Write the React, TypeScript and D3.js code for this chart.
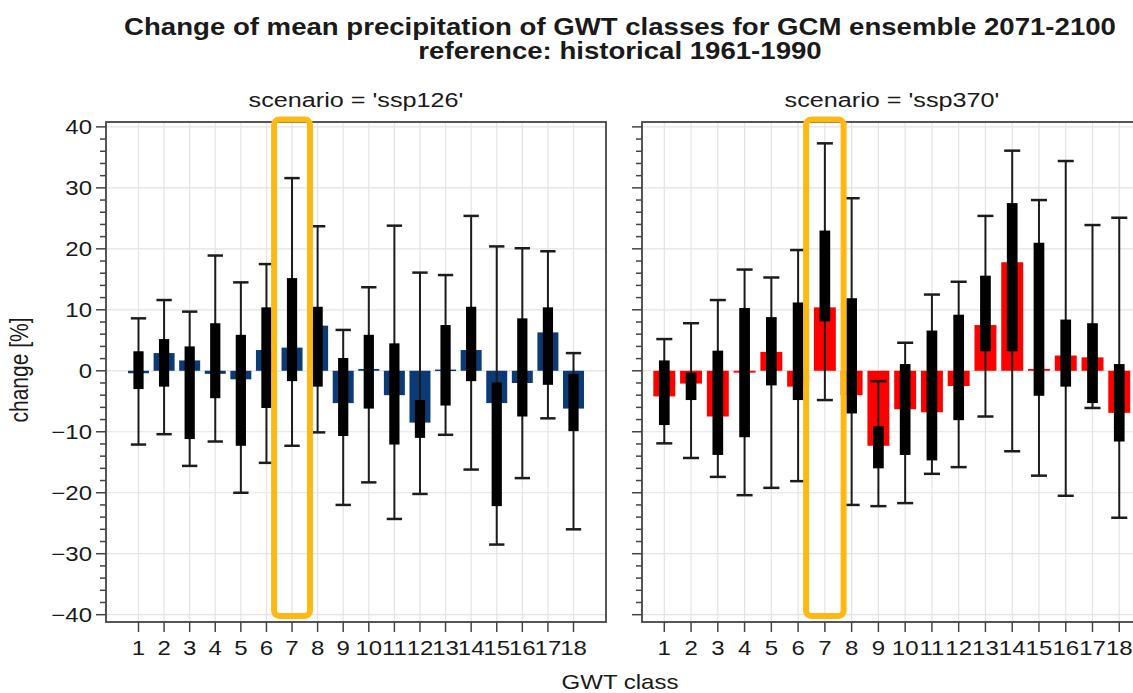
import React from "react";
import * as d3 from "d3";

// ---------- data ----------
const classes = [1, 2, 3, 4, 5, 6, 7, 8, 9, 10, 11, 12, 13, 14, 15, 16, 17, 18];

const ssp126Mean = [-0.4, 2.9, 1.7, -0.5, -1.4, 3.4, 3.8, 7.4, -5.3, 0.3, -4.0, -8.5, 0.2, 3.4, -5.3, -2.0, 6.3, -6.2];
const ssp126Q75 = [3.2, 5.2, 4.0, 7.8, 5.9, 10.4, 15.2, 10.5, 2.1, 5.9, 4.5, -4.8, 7.5, 10.5, -1.9, 8.6, 10.4, -0.5];
const ssp126Q25 = [-3.0, -2.6, -11.2, -4.5, -12.3, -6.1, -1.7, -2.6, -10.7, -6.2, -12.1, -11.0, -5.7, -1.7, -22.2, -7.5, -2.3, -9.9];
const ssp126Max = [8.6, 11.6, 9.7, 18.9, 14.5, 17.5, 31.6, 23.7, 6.7, 13.7, 23.8, 16.1, 15.7, 25.4, 20.4, 20.1, 19.6, 2.9];
const ssp126Min = [-12.1, -10.4, -15.6, -11.6, -20.0, -15.1, -12.3, -10.1, -22.0, -18.3, -24.3, -20.2, -10.5, -16.2, -28.5, -17.6, -7.8, -26.0];

const ssp370Mean = [-4.2, -2.1, -7.5, -0.3, 3.1, -2.6, 10.4, -4.0, -12.3, -6.3, -6.8, -2.5, 7.5, 17.8, 0.3, 2.5, 2.2, -6.9];
const ssp370Q75 = [1.7, -0.3, 3.3, 10.3, 8.8, 11.2, 23.0, 11.9, -9.1, 1.1, 6.6, 9.2, 15.6, 27.5, 21.0, 8.4, 7.8, 1.1];
const ssp370Q25 = [-8.9, -4.8, -13.8, -10.9, -2.4, -4.8, 8.1, -7.0, -16.0, -13.8, -14.7, -8.1, 3.2, 3.2, -4.1, -2.6, -5.3, -11.6];
const ssp370Max = [5.2, 7.8, 11.6, 16.6, 15.3, 19.8, 37.3, 28.3, -1.7, 4.6, 12.5, 14.6, 25.4, 36.1, 28.0, 34.4, 23.9, 25.1];
const ssp370Min = [-11.9, -14.3, -17.4, -20.4, -19.2, -18.1, -4.8, -22.0, -22.2, -21.7, -16.9, -15.8, -7.5, -13.2, -17.2, -20.5, -6.1, -24.1];

const yMajorTicks = [-40, -30, -20, -10, 0, 10, 20, 30, 40];
const highlightClass = 7;

const titleLine1 = "Change of mean precipitation of GWT classes for GCM ensemble 2071-2100";
const titleLine2 = "reference: historical 1961-1990";
const yLabel = "change [%]";
const xLabel = "GWT class";

// ---------- layout ----------
const W = 1133;
const H = 693;
const SX = 1.2; // horizontal stretch of text
const FONT = "'Liberation Sans', Arial, Helvetica, sans-serif";

const yScale = d3.scaleLinear().domain([-41.2, 40.8]).range([622, 122]);

const panels = [
  {
    label: "scenario = 'ssp126'",
    color: "#0c3a74",
    mean: ssp126Mean, q25: ssp126Q25, q75: ssp126Q75, min: ssp126Min, max: ssp126Max,
    x0: 106, x1: 606, domain: [-0.27, 19.27], showYLabels: true,
  },
  {
    label: "scenario = 'ssp370'",
    color: "#ff0000",
    mean: ssp370Mean, q25: ssp370Q25, q75: ssp370Q75, min: ssp370Min, max: ssp370Max,
    x0: 642, x1: 1142, domain: [0.167, 18.85], showYLabels: false,
  },
];

function T({ x, y, children, anchor = "middle", size = 20, weight = "normal", rotate = false }: any) {
  const tr = rotate
    ? `translate(${x},${y}) rotate(-90) scale(1,${SX})`
    : `translate(${x},${y}) scale(${SX},1)`;
  return (
    <text transform={tr} textAnchor={anchor} fontSize={size} fontWeight={weight} fontFamily={FONT} fill="#1a1a1a">
      {children}
    </text>
  );
}

function Panel({ p }: any) {
  const x = d3.scaleLinear().domain(p.domain).range([p.x0, p.x1]);
  const unit = x(1) - x(0);
  const barW = 0.82 * unit;
  const boxW = 0.4 * unit;
  const capW = 0.6 * unit;
  const y0 = yScale(0);
  const [yTop, yBot] = [yScale.range()[1], yScale.range()[0]];
  const minorTicks = d3.range(-40, 41, 2);
  return (
    <g>
      <rect x={p.x0} y={yTop} width={p.x1 - p.x0} height={yBot - yTop} fill="#fff" />
      {yMajorTicks.map((t) => (
        <line key={"gy" + t} x1={p.x0} x2={p.x1} y1={yScale(t)} y2={yScale(t)} stroke="#e3e3e3" strokeWidth={1.2} />
      ))}
      {classes.map((c) => (
        <line key={"gx" + c} x1={x(c)} x2={x(c)} y1={yTop} y2={yBot} stroke="#e3e3e3" strokeWidth={1.2} />
      ))}
      {classes.map((c, i) => {
        const ym = yScale(p.mean[i]);
        return (
          <rect key={"m" + c} x={x(c) - barW / 2} y={Math.min(ym, y0)} width={barW}
            height={Math.max(Math.abs(ym - y0), 1.5)} fill={p.color} />
        );
      })}
      {classes.map((c, i) => (
        <g key={"w" + c} stroke="#1c1c1c">
          <line x1={x(c)} x2={x(c)} y1={yScale(p.min[i])} y2={yScale(p.max[i])} strokeWidth={2} />
          <line x1={x(c) - capW / 2} x2={x(c) + capW / 2} y1={yScale(p.min[i])} y2={yScale(p.min[i])} strokeWidth={2.5} />
          <line x1={x(c) - capW / 2} x2={x(c) + capW / 2} y1={yScale(p.max[i])} y2={yScale(p.max[i])} strokeWidth={2.5} />
        </g>
      ))}
      {classes.map((c, i) => (
        <rect key={"b" + c} x={x(c) - boxW / 2} y={yScale(p.q75[i])} width={boxW}
          height={yScale(p.q25[i]) - yScale(p.q75[i])} fill="#000" />
      ))}
      <rect x={p.x0} y={yTop} width={p.x1 - p.x0} height={yBot - yTop} fill="none" stroke="#444" strokeWidth={1.8} />
      {/* y ticks */}
      {minorTicks.map((t) => {
        const major = t % 10 === 0;
        return (
          <line key={"yt" + t} x1={p.x0 - (major ? 10 : 6)} x2={p.x0} y1={yScale(t)} y2={yScale(t)} stroke="#444" strokeWidth={1.5} />
        );
      })}
      {p.showYLabels &&
        yMajorTicks.map((t) => (
          <T key={"yl" + t} x={p.x0 - 14} y={yScale(t) + 7} anchor="end">
            {t < 0 ? "\u2212" + Math.abs(t) : String(t)}
          </T>
        ))}
      {/* x ticks */}
      {classes.map((c) => (
        <g key={"xt" + c}>
          <line x1={x(c)} x2={x(c)} y1={yBot} y2={yBot + 10} stroke="#444" strokeWidth={1.5} />
          <T x={x(c)} y={655}>{String(c)}</T>
        </g>
      ))}
      <T x={(p.x0 + p.x1) / 2} y={107} size={21}>{p.label}</T>
      {/* highlight */}
      <rect x={x(highlightClass - 0.7)} y={yScale(41.2)} width={x(highlightClass + 0.7) - x(highlightClass - 0.7)}
        height={yScale(-40.2) - yScale(41.2)} fill="none" stroke="#FDB913" strokeWidth={6} rx={5} />
    </g>
  );
}

export default function App() {
  return (
    <svg width={W} height={H} style={{ position: "absolute", left: 0, top: 0, background: "#fff" }}>
      <rect width={W} height={H} fill="#fff" />
      <T x={620} y={35} size={23} weight="bold">{titleLine1}</T>
      <T x={620} y={59} size={23} weight="bold">{titleLine2}</T>
      {panels.map((p) => (
        <Panel key={p.label} p={p} />
      ))}
      <T x={28} y={370} size={21} rotate>{yLabel}</T>
      <T x={620} y={689} size={20}>{xLabel}</T>
    </svg>
  );
}
